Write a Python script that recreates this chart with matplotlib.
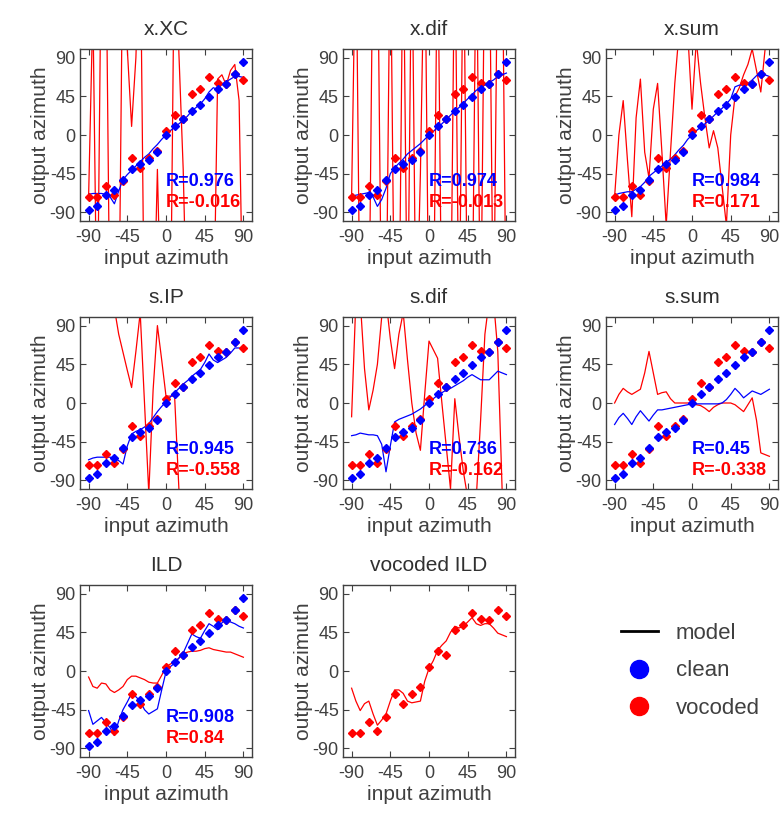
import matplotlib
matplotlib.use("Agg")
import matplotlib.pyplot as plt
from matplotlib.lines import Line2D

plt.rcParams['font.family'] = ['Liberation Sans', 'DejaVu Sans']
plt.rcParams['axes.unicode_minus'] = False

# human responses, input azimuth in 10 deg steps
az_human = [-90, -80, -70, -60, -50, -40, -30, -20, -10, 0, 10, 20, 30, 40, 50, 60, 70, 80, 90]
clean_human = [-87, -83, -70, -64, -52, -40, -34, -29, -20, 0, 10, 19, 28, 35, 44, 53, 59, 71, 85]
vocoded_human = [-72, -72, -59, -70, -54, -27, -38, -27, -19, 5, 23, 19, 48, 54, 67, 61, 59, 71, 64]

# model predictions, input azimuth in 5 deg steps
az_model = [-90, -85, -80, -75, -70, -65, -60, -55, -50, -45, -40, -35, -30, -25, -20, -15, -10, -5,
            0, 5, 10, 15, 20, 25, 30, 35, 40, 45, 50, 55, 60, 65, 70, 75, 80, 85, 90]

xxc_clean = [-69, -68, -68, -68, -69, -72, -80, -65, -52, -46, -41, -36, -31, -26, -22, -16, -11, -5,
             0, 5, 9, 13, 17, 22, 28, 32, 36, 42, 50, 55, 53, 59, 62, 65, 68, 68, 67]
xxc_vocoded = [-72, 150, -250, 250, 250, -250, -250, -250, 250, 100, 10, 90, 250, -250, -250, -250, -40, -250,
               -250, -250, 250, 95, -40, -250, -250, -250, -250, -250, -250, -250, 65, 70, 58, 75, 82, 40, -250]

xdif_clean = [-71, -70, -69, -68, -67, -72, -83, -75, -62, -45, -38, -33, -28, -22, -18, -14, -10, -5,
              0, 4, 9, 13, 18, 23, 28, 32, 37, 42, 47, 52, 55, 58, 61, 64, 68, 70, 72]
xdif_vocoded = [-72, 250, -250, -250, -250, 250, 250, -250, -250, 250, -250, -250, 250, -250, 250, -250, -45, 250,
                -250, -250, 250, -250, -250, -250, 250, -250, 250, -250, -250, 250, -250, 250, 250, -250, 250, 250, -250]

xsum_clean = [-70, -68, -67, -66, -66, -63, -60, -55, -48, -44, -40, -36, -32, -28, -23, -17, -12, -5,
              0, 5, 9, 13, 17, 22, 27, 31, 36, 42, 56, 58, 58, 60, 64, 69, 72, 70, 68]
xsum_vocoded = [-72, 0, 40, -30, -95, 20, 65, -20, -50, 30, 60, -20, -105, -20, 60, 120, 150, 120,
                30, 110, 60, 20, -15, 5, -15, -60, -105, 0, 45, 55, 70, 82, 100, 75, 50, 100, 110]

sip_clean = [-66, -64, -63, -63, -63, -63, -64, -67, -71, -50, -36, -33, -31, -28, -24, -17, -10, -4,
             1, 7, 12, 17, 22, 26, 31, 35, 39, 47, 57, 50, 47, 50, 53, 58, 64, 64, 62]
sip_vocoded = [200, 200, 200, 200, 200, 200, 110, 80, 59, 38, 18, 60, 105, 0, -105, 15, 90, 50,
               8, 8, 8, -100, -200, -200, -200, -200, -200, -200, -200, -200, -200, -200, -200, -200, -200, -200, -200]

sdif_clean = [-38, -37, -35, -36, -37, -37, -38, -48, -80, -50, -22, -19, -17, -15, -13, -10, -7, -3,
              1, 5, 9, 12, 15, 17, 20, 23, 26, 30, 33, 30, 27, 27, 27, 32, 37, 35, 33]
sdif_vocoded = [-16, 120, 120, 40, -8, 15, 45, 100, 120, 75, 40, 80, 105, 50, 0, -35, -55, 10,
                72, 62, 52, 0, -50, -100, 5, -40, -80, -110, -110, -110, -20, 80, 120, 120, 60, -100, -120]

ssum_clean = [-25, -17, -12, -18, -25, -16, -9, -15, -21, -14, -8, -8, -7, -6, -5, -4, -3, -2,
              -1, -1, -1, -1, -1, -1, -1, 0, 4, 10, 17, 12, 6, 10, 14, 12, 10, 13, 16]
ssum_vocoded = [0, 10, 17, 13, 10, 13, 16, 35, 60, 35, 10, 12, 13, 5, 0, 0, 0, 0,
                0, -2, -3, -6, -10, -5, -2, 0, 0, 0, -2, -6, -10, -2, 6, -20, -58, -60, -62]

ild_clean = [-46, -62, -58, -54, -60, -66, -75, -58, -45, -36, -26, -30, -35, -45, -50, -47, -44, -22,
             -1, 5, 9, 15, 21, 32, 43, 40, 38, 47, 55, 52, 48, 56, 60, 57, 55, 52, 50]
ild_vocoded = [-7, -18, -20, -14, -15, -22, -25, -22, -18, -10, -6, -6, -8, -10, -13, -14, -14, -5,
               5, 8, 11, 15, 20, 22, 23, 23, 24, 26, 27, 25, 24, 23, 22, 22, 20, 18, 16]

vild_vocoded = [-20, -35, -46, -38, -35, -50, -63, -57, -50, -35, -22, -22, -26, -35, -37, -36, -35, -12,
                3, 12, 24, 30, 35, 45, 52, 50, 52, 57, 62, 55, 53, 55, 55, 50, 44, 42, 40]

titles = ['x.XC', 'x.dif', 'x.sum', 's.IP', 's.dif', 's.sum', 'ILD', 'vocoded ILD']
clean_models = [xxc_clean, xdif_clean, xsum_clean, sip_clean, sdif_clean, ssum_clean, ild_clean, None]
vocoded_models = [xxc_vocoded, xdif_vocoded, xsum_vocoded, sip_vocoded, sdif_vocoded, ssum_vocoded,
                  ild_vocoded, vild_vocoded]
r_clean = ['R=0.976', 'R=0.974', 'R=0.984', 'R=0.945', 'R=0.736', 'R=0.45', 'R=0.908', None]
r_vocoded = ['R=-0.016', 'R=-0.013', 'R=0.171', 'R=-0.558', 'R=-0.162', 'R=-0.338', 'R=0.84', None]

ticks = [-90, -45, 0, 45, 90]
blue = '#0000ff'
red = '#ff0000'
grey = '#404040'

fig = plt.figure(figsize=(7.82, 8.14), dpi=100)

W, H = 782.0, 814.0
col_left = [80, 343, 606]
row_top = [49, 317, 585]
ax_w, ax_h = 172, 172

for i, title in enumerate(titles):
    r, c = divmod(i, 3)
    ax = fig.add_axes([col_left[c] / W, 1 - (row_top[r] + ax_h) / H, ax_w / W, ax_h / H])

    # model lines
    ax.plot(az_model, vocoded_models[i], color=red, lw=0.9)
    if clean_models[i] is not None:
        ax.plot(az_model, clean_models[i], color=blue, lw=0.9)

    # human data
    ax.plot(az_human, vocoded_human, ls='none', marker='D', ms=3.6, color=red, mec=red)
    if clean_models[i] is not None:
        ax.plot(az_human, clean_human, ls='none', marker='D', ms=3.6, color=blue, mec=blue)

    if r_clean[i] is not None:
        ax.text(0.5, 0.23, r_clean[i], transform=ax.transAxes, color=blue,
                fontsize=13, fontweight='bold', ha='left', va='center')
        ax.text(0.5, 0.11, r_vocoded[i], transform=ax.transAxes, color=red,
                fontsize=13, fontweight='bold', ha='left', va='center')

    ax.set_xlim(-100, 100)
    ax.set_ylim(-100, 100)
    ax.set_xticks(ticks)
    ax.set_yticks(ticks)
    ax.tick_params(direction='in', length=4, top=True, right=True, color=grey,
                   labelcolor=grey, labelsize=13, pad=3)
    ax.tick_params(axis='x', pad=6)
    for sp in ax.spines.values():
        sp.set_color(grey)
        sp.set_linewidth(1.0)

    ax.set_title(title, fontsize=15, color='#303030', pad=10)
    ax.set_xlabel('input azimuth', fontsize=15, color=grey, labelpad=2)
    ax.set_ylabel('output azimuth', fontsize=15, color=grey, labelpad=0)

# legend panel
lax = fig.add_axes([col_left[2] / W, 1 - (row_top[2] + ax_h) / H, ax_w / W, ax_h / H])
lax.axis('off')
handles = [
    Line2D([], [], color='black', lw=2),
    Line2D([], [], ls='none', marker='o', ms=13, color=blue),
    Line2D([], [], ls='none', marker='o', ms=13, color=red),
]
lax.legend(handles, ['model', 'clean', 'vocoded'], loc='center', bbox_to_anchor=(0.49, 0.5),
           frameon=False, fontsize=16, handlelength=1.7, handletextpad=0.8, labelspacing=0.75,
           labelcolor=grey)

fig.savefig('out.png', dpi=100)
